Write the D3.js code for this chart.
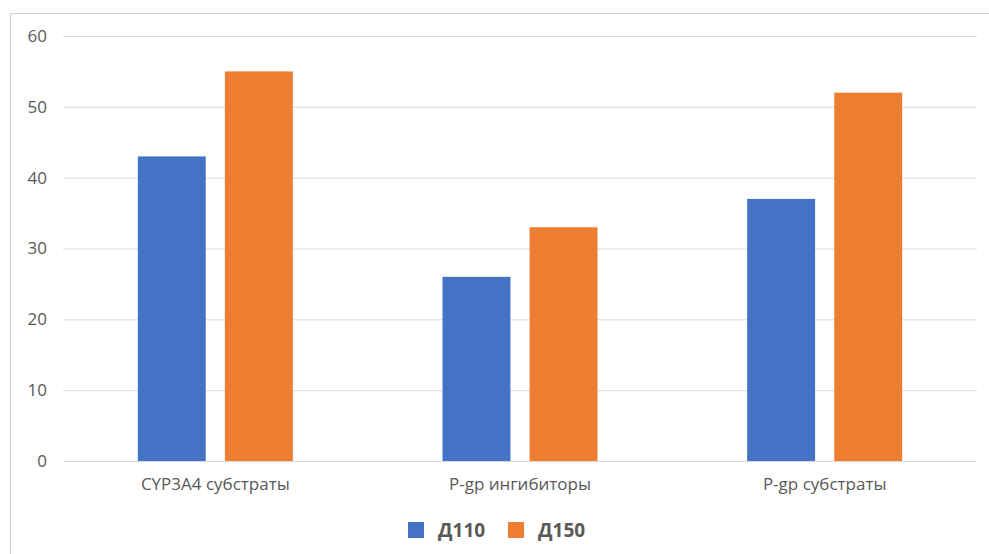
<!DOCTYPE html>
<html>
<head>
<meta charset="utf-8">
<script src="https://cdn.jsdelivr.net/npm/d3@7"></script>
<style>
  body { margin: 0; background: #fff; }
  text { font-family: "Open Sans", "Noto Sans", sans-serif; fill: #595959; }
</style>
</head>
<body>
<script>
  var categories = ["CYP3A4 субстраты", "P-gp ингибиторы", "P-gp субстраты"];
  var seriesNames = ["Д110", "Д150"];
  var d110 = [43, 26, 37];
  var d150 = [55, 33, 52];
  var yTicks = [0, 10, 20, 30, 40, 50, 60];
  var colors = ["#4472C4", "#ED7D31"];

  var w = 989;
  var h = 554;

  var margin = {
    top: 36,
    bottom: 93,
    left: 63,
    right: 12
  };

  var width = w - margin.left - margin.right;
  var height = h - margin.top - margin.bottom;

  var svg = d3.select("body").append("svg")
              .attr("width", w)
              .attr("height", h);

  // chart frame (only top and left edges show in the crop)
  svg.append("rect")
     .attr("x", 10.5)
     .attr("y", 13.5)
     .attr("width", w + 20)
     .attr("height", h + 20)
     .attr("fill", "none")
     .attr("stroke", "#d0d0d0");

  var chart = svg.append("g")
              .attr("transform", "translate(" + margin.left + "," + margin.top + ")");

  var x = d3.scaleBand()
            .domain(categories)
            .range([0, width]);

  var x1 = d3.scaleBand()
             .domain(seriesNames)
             .range([x.bandwidth() / 2 - 77.5, x.bandwidth() / 2 + 77.5])
             .paddingInner(0.22);

  var y = d3.scaleLinear()
            .domain([0, 60])
            .range([height, 0]);

  var yGridlines = d3.axisLeft(y)
                     .tickValues(yTicks)
                     .tickSize(-width)
                     .tickFormat("");

  chart.append("g")
       .call(yGridlines)
       .call(function(g){
         g.select(".domain").remove();
         g.selectAll("line").attr("stroke", "#d9d9d9").attr("stroke-width", 1);
       });

  var yAxis = d3.axisLeft(y)
                .tickValues(yTicks)
                .tickSize(0)
                .tickPadding(16);

  chart.append("g")
       .call(yAxis)
       .call(function(g){
         g.select(".domain").remove();
         g.selectAll("text").attr("font-size", 17).attr("fill", "#6a6a6a")
          .attr("font-family", "'Open Sans', sans-serif");
       });

  var rows = categories.map(function(c, i){
    return {cat: c, vals: [d110[i], d150[i]]};
  });

  var groups = chart.selectAll(".grp")
                    .data(rows)
                    .enter()
                    .append("g")
                    .attr("transform", function(d){ return "translate(" + x(d.cat) + ",0)"; });

  groups.selectAll("rect")
        .data(function(d){
          return d.vals.map(function(v, j){ return {name: seriesNames[j], value: v, j: j}; });
        })
        .enter()
        .append("rect")
        .attr("x", function(d){ return x1(d.name); })
        .attr("width", x1.bandwidth())
        .attr("y", function(d){ return y(d.value); })
        .attr("height", function(d){ return height - y(d.value); })
        .attr("fill", function(d){ return colors[d.j]; });

  var xAxis = d3.axisBottom(x)
                .tickSize(0)
                .tickPadding(17);

  chart.append("g")
       .attr("transform", "translate(0," + height + ")")
       .call(xAxis)
       .call(function(g){
         g.select(".domain").remove();
         g.selectAll("text").attr("font-size", 17).attr("fill", "#6a6a6a")
          .attr("font-family", "'Open Sans', sans-serif");
       });

  // legend
  var legend = svg.append("g")
                  .attr("transform", "translate(408,530)");

  var items = legend.selectAll(".item")
                    .data(seriesNames)
                    .enter()
                    .append("g")
                    .attr("transform", function(d, i){ return "translate(" + (i * 100) + ",0)"; });

  items.append("rect")
       .attr("x", 0)
       .attr("y", -8)
       .attr("width", 16)
       .attr("height", 16)
       .attr("fill", function(d, i){ return colors[i]; });

  items.append("text")
       .attr("x", 30)
       .attr("y", 0)
       .attr("dy", "0.36em")
       .attr("font-size", 19)
       .attr("font-weight", "bold")
       .attr("font-family", "'Liberation Sans', Arial, sans-serif")
       .attr("fill", "#727272")
       .text(function(d){ return d; });
</script>
</body>
</html>
